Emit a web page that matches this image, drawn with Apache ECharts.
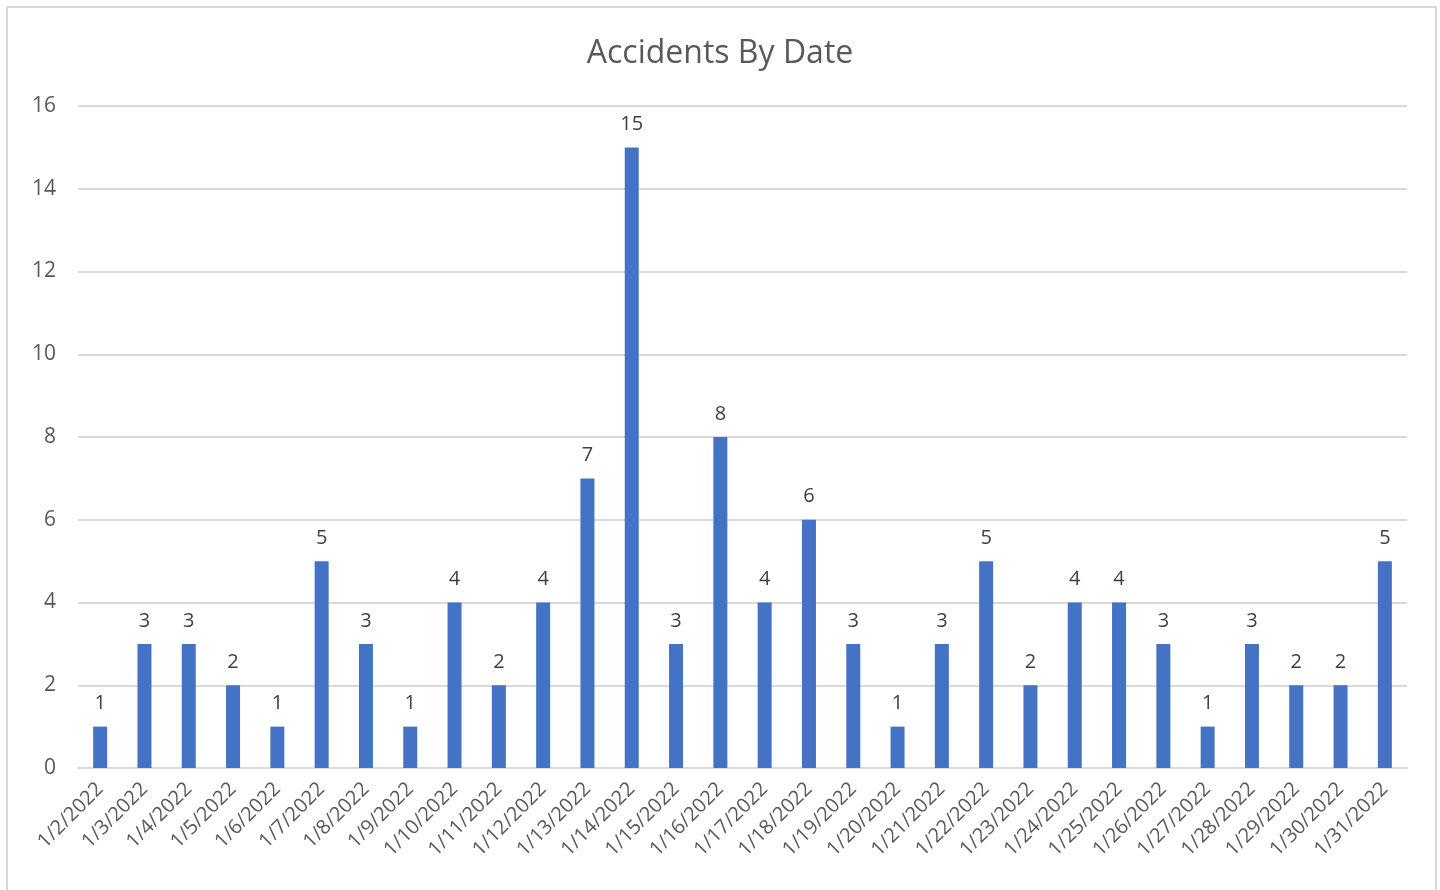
<!DOCTYPE html>
<html>
<head>
<meta charset="utf-8">
<style>
  html, body { margin: 0; padding: 0; background: #fff; }
  #chart { width: 1440px; height: 890px; }
</style>
<script src="https://cdn.jsdelivr.net/npm/echarts@6/dist/echarts.min.js"></script>
</head>
<body>
<div id="chart"></div>
<script>
// data
var dates = ['1/2/2022', '1/3/2022', '1/4/2022', '1/5/2022', '1/6/2022', '1/7/2022', '1/8/2022',
  '1/9/2022', '1/10/2022', '1/11/2022', '1/12/2022', '1/13/2022', '1/14/2022', '1/15/2022',
  '1/16/2022', '1/17/2022', '1/18/2022', '1/19/2022', '1/20/2022', '1/21/2022', '1/22/2022',
  '1/23/2022', '1/24/2022', '1/25/2022', '1/26/2022', '1/27/2022', '1/28/2022', '1/29/2022',
  '1/30/2022', '1/31/2022'];
var accidents = [1, 3, 3, 2, 1, 5, 3, 1, 4, 2, 4, 7, 15, 3, 8, 4, 6, 3, 1, 3, 5, 2, 4, 4, 3, 1, 3, 2, 2, 5];
var yTicks = { min: 0, max: 16, step: 2 };

var font = '"Open Sans", "Noto Sans", sans-serif';
var myChart = echarts.init(document.getElementById('chart'));
myChart.setOption({
  backgroundColor: '#fff',
  animation: false,
  textStyle: { fontFamily: font },
  // chart frame
  graphic: [{
    type: 'rect',
    shape: { x: 7, y: 7, width: 1429, height: 890 },
    style: { fill: 'none', stroke: '#d9d9d9', lineWidth: 2 },
    silent: true
  }],
  title: {
    text: 'Accidents By Date',
    left: 'center',
    top: 33,
    textStyle: { fontFamily: font, fontSize: 32, fontWeight: 'normal', color: '#595959' }
  },
  grid: { left: 78, right: 33, top: 106, bottom: 122 },
  xAxis: {
    type: 'category',
    data: dates,
    axisLine: { lineStyle: { color: '#d9d9d9', width: 2 } },
    axisTick: { show: false },
    axisLabel: {
      interval: 0,
      rotate: 45,
      margin: 18,
      fontFamily: font,
      fontSize: 20,
      color: '#595959'
    }
  },
  yAxis: {
    type: 'value',
    min: yTicks.min,
    max: yTicks.max,
    interval: yTicks.step,
    axisLine: { show: false },
    axisTick: { show: false },
    splitLine: { lineStyle: { color: '#d9d9d9', width: 2 } },
    axisLabel: { margin: 22, fontFamily: font, fontSize: 21, color: '#595959' }
  },
  series: [{
    name: 'Accidents',
    type: 'bar',
    data: accidents,
    barWidth: 14,
    itemStyle: { color: '#4472C4' },
    label: {
      show: true,
      position: 'top',
      distance: 13,
      fontFamily: font,
      fontSize: 20,
      color: '#404040'
    }
  }]
});
</script>
</body>
</html>
